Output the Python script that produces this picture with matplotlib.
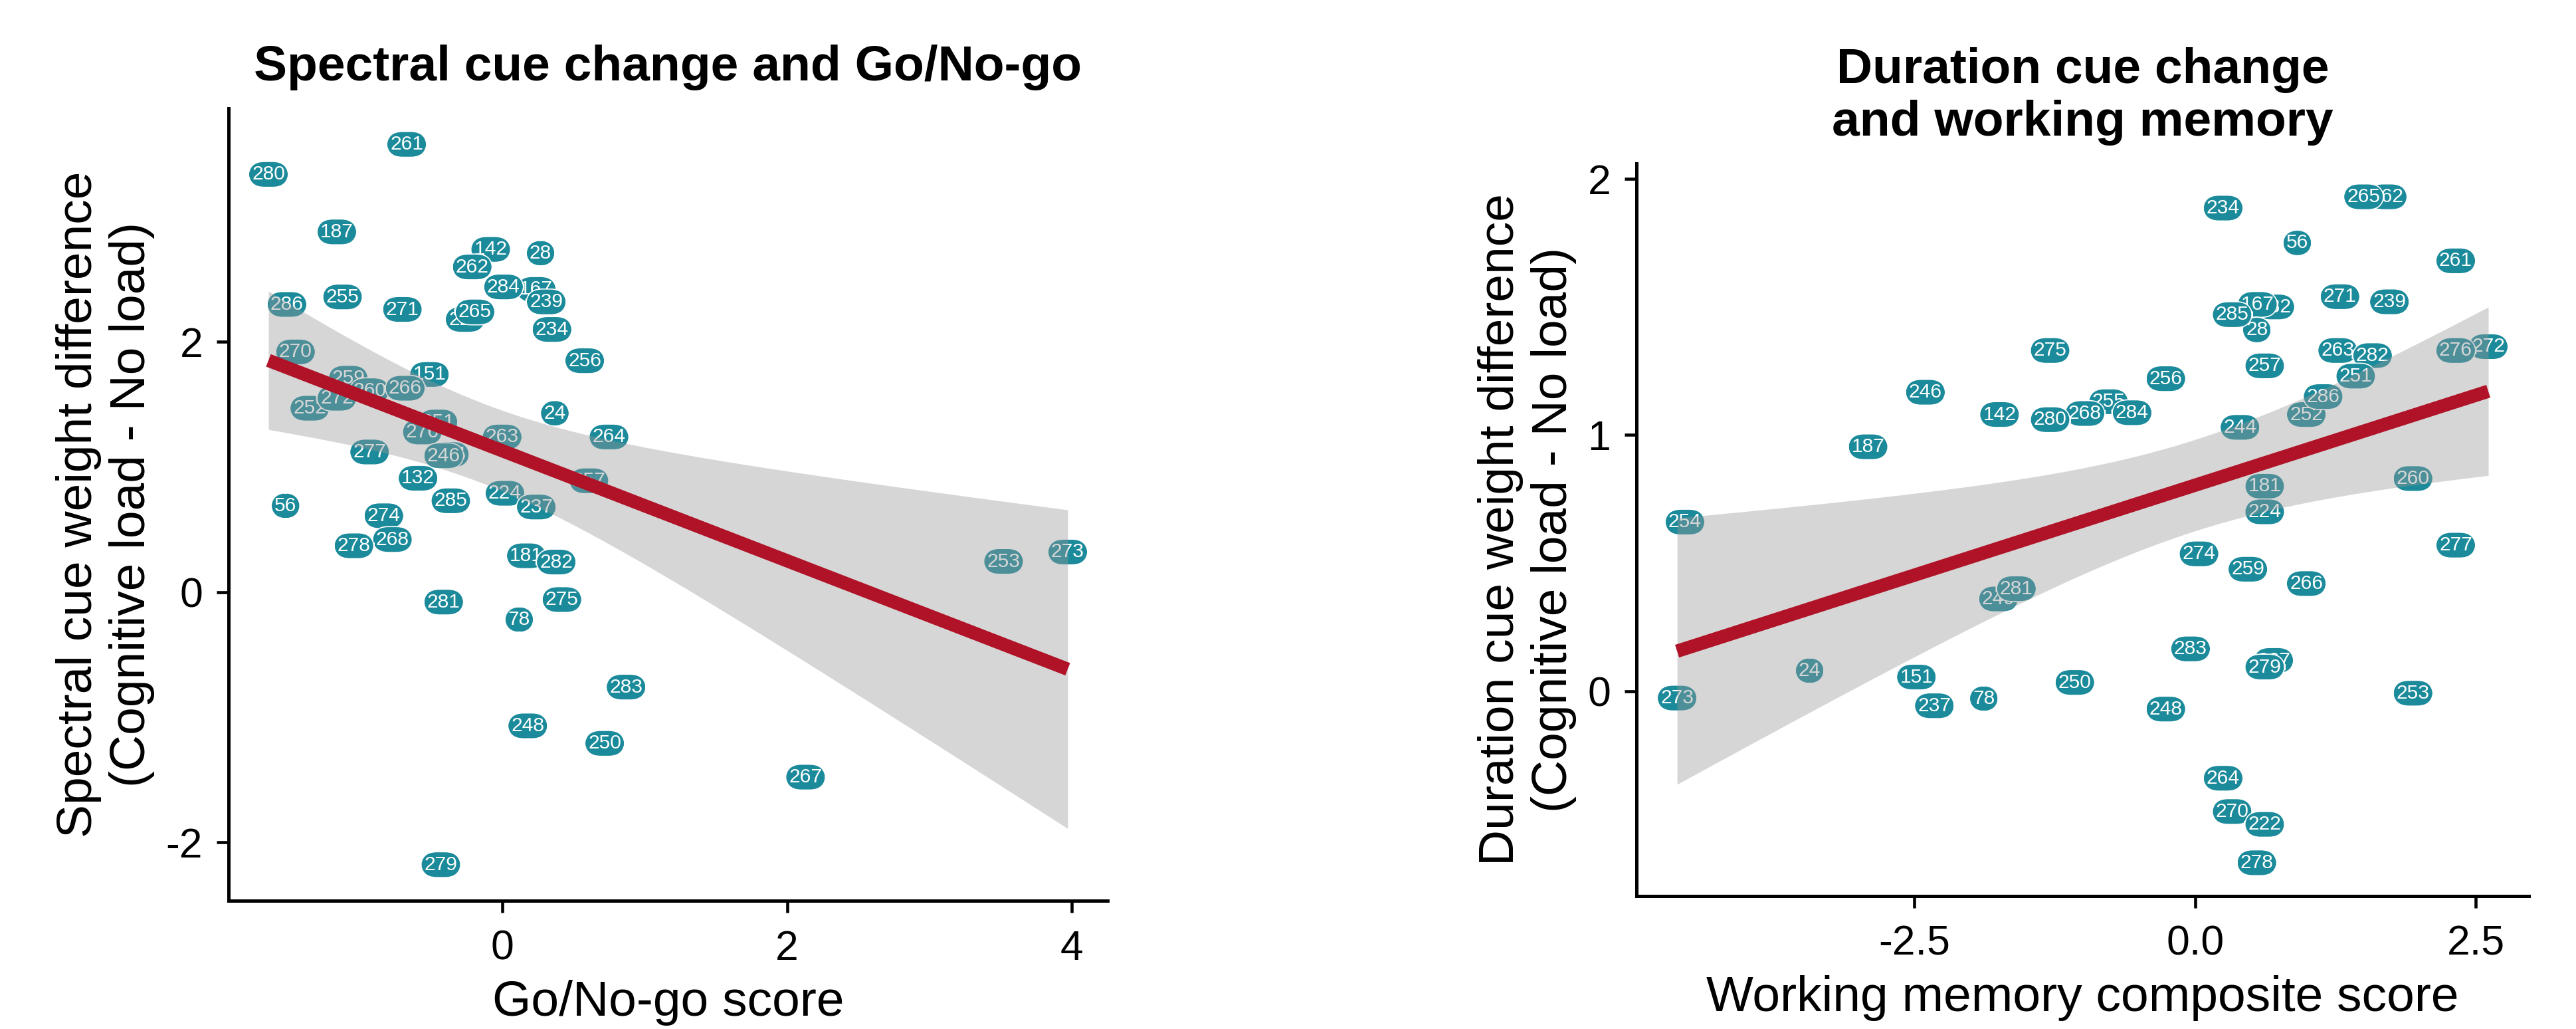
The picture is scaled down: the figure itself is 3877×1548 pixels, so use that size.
import numpy as np
import matplotlib
matplotlib.use("Agg")
import matplotlib.pyplot as plt

plt.rcParams['font.family'] = ['Liberation Sans', 'DejaVu Sans']

TEAL = "#1b8a9a"
RED = "#b01327"

# Go/No-go vs spectral cue weight change (participant id, score, difference)
gng_ids = [261, 280, 187, 142, 28, 262, 167, 284, 239, 255, 286, 271, 222, 265,
           234, 256, 270, 151, 259, 260, 252, 272, 266, 24, 263, 264, 251, 276,
           254, 277, 246, 132, 257, 285, 224, 237, 56, 274, 268, 278, 181, 282,
           281, 275, 78, 283, 248, 250, 267, 279, 253, 273]
gng_x = [-0.67, -1.64, -1.16, -0.08, 0.27, -0.21, 0.24, 0.01, 0.31, -1.12, -1.51,
         -0.70, -0.26, -0.19, 0.35, 0.58, -1.45, -0.51, -1.08, -0.93, -1.35, -1.16,
         -0.68, 0.37, 0.00, 0.75, -0.45, -0.56, -0.37, -0.93, -0.41, -0.59, 0.61,
         -0.36, 0.02, 0.24, -1.52, -0.83, -0.77, -1.04, 0.17, 0.38, -0.41, 0.42,
         0.12, 0.87, 0.18, 0.72, 2.13, -0.43, 3.52, 3.97]
gng_y = [3.58, 3.34, 2.88, 2.74, 2.71, 2.60, 2.42, 2.44, 2.32, 2.36, 2.30, 2.26,
         2.18, 2.24, 2.10, 1.85, 1.92, 1.74, 1.71, 1.61, 1.47, 1.55, 1.63, 1.43,
         1.24, 1.24, 1.36, 1.28, 1.10, 1.12, 1.09, 0.91, 0.89, 0.73, 0.79, 0.68,
         0.69, 0.61, 0.42, 0.37, 0.29, 0.24, -0.08, -0.06, -0.22, -0.76, -1.07,
         -1.21, -1.48, -2.18, 0.245, 0.32]

# Working memory vs duration cue weight change
wm_ids = [262, 265, 234, 56, 261, 271, 239, 132, 167, 28, 285, 263, 282, 257,
          251, 252, 286, 244, 272, 276, 256, 255, 284, 275, 246, 142, 268, 280,
          187, 254, 273, 24, 151, 237, 78, 249, 281, 250, 248, 283, 274, 259,
          266, 181, 224, 260, 277, 253, 267, 279, 264, 270, 222, 278]
wm_x = [1.71, 1.50, 0.25, 0.91, 2.32, 1.29, 1.73, 0.71, 0.555, 0.55, 0.33, 1.27,
        1.58, 0.62, 1.43, 0.99, 1.14, 0.40, 2.61, 2.32, -0.26, -0.77, -0.56,
        -1.29, -2.40, -1.74, -0.98, -1.29, -2.91, -4.54, -4.61, -3.43, -2.48,
        -2.32, -1.88, -1.75, -1.59, -1.07, -0.26, -0.04, 0.035, 0.47, 0.99,
        0.62, 0.62, 1.94, 2.32, 1.94, 0.70, 0.62, 0.25, 0.33, 0.62, 0.55]
wm_y = [1.93, 1.93, 1.886, 1.75, 1.68, 1.54, 1.52, 1.50, 1.51, 1.41, 1.47, 1.33,
        1.31, 1.27, 1.23, 1.08, 1.15, 1.03, 1.345, 1.33, 1.22, 1.13, 1.087, 1.33,
        1.167, 1.08, 1.084, 1.06, 0.954, 0.66, -0.027, 0.08, 0.055, -0.057,
        -0.029, 0.36, 0.40, 0.034, -0.07, 0.165, 0.536, 0.476, 0.42, 0.80, 0.70,
        0.83, 0.57, -0.008, 0.12, 0.094, -0.34, -0.47, -0.52, -0.67]


def t975(df):
    # Cornish-Fisher expansion of the Student t quantile
    z = 1.959964
    return (z + (z**3 + z) / (4 * df)
            + (5 * z**5 + 16 * z**3 + 3 * z) / (96 * df**2))


def lm_band(x, y, n=100):
    x = np.asarray(x)
    y = np.asarray(y)
    b1, b0 = np.polyfit(x, y, 1)
    xs = np.linspace(x.min(), x.max(), n)
    fit = b0 + b1 * xs
    resid = y - (b0 + b1 * x)
    s = np.sqrt(np.sum(resid**2) / (len(x) - 2))
    sxx = np.sum((x - x.mean())**2)
    se = s * np.sqrt(1 / len(x) + (xs - x.mean())**2 / sxx)
    t = t975(len(x) - 2)
    return xs, fit, fit - t * se, fit + t * se


def expand(v, mult=0.05):
    lo, hi = min(v), max(v)
    d = (hi - lo) * mult
    return lo - d, hi + d


def panel(ax, ids, x, y, title, xlabel, ylabel):
    for i, xi, yi in zip(ids, x, y):
        ax.text(xi, yi, str(i), ha='center', va='center', fontsize=7.2,
                color='white', zorder=2,
                bbox=dict(boxstyle='round,pad=0.18,rounding_size=0.8',
                          fc=TEAL, ec='white', lw=0.4))
    xs, fit, lo, hi = lm_band(x, y)
    ax.fill_between(xs, lo, hi, color='#999999', alpha=0.4, lw=0, zorder=3)
    ax.plot(xs, fit, color=RED, lw=4.8, zorder=4, solid_capstyle='butt')

    ax.set_xlim(*expand(x))
    ax.set_ylim(*expand(y))
    for side in ['top', 'right']:
        ax.spines[side].set_visible(False)
    for side in ['left', 'bottom']:
        ax.spines[side].set_linewidth(1.2)
    ax.tick_params(length=4.3, width=1.1, labelsize=15, colors='black')
    ax.tick_params(axis='x', pad=6)
    ax.tick_params(axis='y', pad=5)
    ax.set_title(title, fontsize=18, fontweight='bold', pad=10)
    ax.set_xlabel(xlabel, fontsize=18, labelpad=4)
    ax.set_ylabel(ylabel, fontsize=18, labelpad=4)


fig = plt.figure(figsize=(3877 / 300, 1548 / 300), dpi=300)
ax1 = fig.add_axes([0.0887, 0.1247, 0.3413, 0.7700])
ax2 = fig.add_axes([0.6353, 0.1292, 0.3464, 0.7119])

panel(ax1, gng_ids, gng_x, gng_y, "Spectral cue change and Go/No-go",
      "Go/No-go score",
      "Spectral cue weight difference\n(Cognitive load - No load)")
ax1.set_xticks([0, 2, 4])
ax1.set_xticklabels(['0', '2', '4'])
ax1.set_yticks([-2, 0, 2])
ax1.set_yticklabels(['-2', '0', '2'])

panel(ax2, wm_ids, wm_x, wm_y, "Duration cue change\nand working memory",
      "Working memory composite score",
      "Duration cue weight difference\n(Cognitive load - No load)")
ax2.set_xticks([-2.5, 0, 2.5])
ax2.set_xticklabels(['-2.5', '0.0', '2.5'])
ax2.set_yticks([0, 1, 2])
ax2.set_yticklabels(['0', '1', '2'])

fig.savefig("out.png", dpi=300)
